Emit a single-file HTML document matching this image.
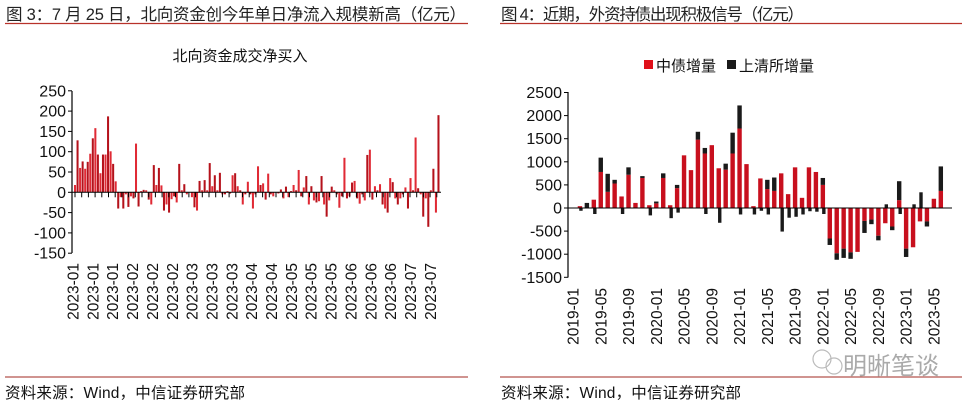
<!DOCTYPE html>
<html><head><meta charset="utf-8">
<style>
body{margin:0;background:#fff;width:970px;height:406px;overflow:hidden;font-family:"Liberation Sans","Noto Sans CJK SC",sans-serif;}
svg{position:absolute;left:0;top:0}
</style></head><body>
<svg id="s" width="970" height="406" xmlns="http://www.w3.org/2000/svg" font-family="Liberation Sans, Noto Sans CJK SC, sans-serif">
<text x="6" y="20" font-size="16.5" fill="#222" textLength="460">图 3：7 月 25 日，北向资金创今年单日净流入规模新高（亿元）</text>
<line x1="5" y1="23.5" x2="468" y2="23.5" stroke="#b8322a" stroke-width="1.2"/>
<text x="501" y="20" font-size="16.5" fill="#222" textLength="303">图 4：近期，外资持债出现积极信号（亿元）</text>
<line x1="500" y1="23.5" x2="962" y2="23.5" stroke="#b8322a" stroke-width="1.2"/>
<text x="240" y="61" font-size="15" fill="#111" text-anchor="middle">北向资金成交净买入</text>
<rect x="644" y="60" width="9" height="9" fill="#e0101a"/>
<text x="656" y="71" font-size="15" fill="#111">中债增量</text>
<rect x="727" y="60" width="9" height="9" fill="#1a1a1a"/>
<text x="739" y="71" font-size="15" fill="#111">上清所增量</text>
<line x1="5" y1="377" x2="468" y2="377" stroke="#a02a20" stroke-width="1"/>
<line x1="500" y1="377" x2="962" y2="377" stroke="#a02a20" stroke-width="1"/>
<text x="5" y="398" font-size="15.5" fill="#111" textLength="240">资料来源：Wind，中信证券研究部</text>
<text x="501" y="398" font-size="15.5" fill="#111" textLength="240">资料来源：Wind，中信证券研究部</text>
<circle cx="822" cy="359" r="9" fill="none" stroke="#bbb" stroke-width="1.2"/>
<circle cx="834" cy="366" r="8" fill="none" stroke="#bbb" stroke-width="1.2"/>
<text x="843" y="374" font-size="24" fill="#aaa">明晰笔谈</text>
<g id="L"></g><g id="R"></g>
</svg>
<script>
var ns="http://www.w3.org/2000/svg";
function el(p,t,a,txt){var e=document.createElementNS(ns,t);for(var k in a)e.setAttribute(k,a[k]);if(txt!==undefined)e.textContent=txt;p.appendChild(e);return e;}
var L=document.getElementById('L'),R=document.getElementById('R');
var z0=192.3,pp=20.3/50,x0=72,x1=441;
el(L,'line',{x1:x0,y1:91,x2:x0,y2:253,stroke:'#000','stroke-width':1.2});
for(var v=250;v>=-150;v-=50){var y=z0-v*pp;el(L,'line',{x1:x0-4,y1:y,x2:x0,y2:y,stroke:'#000'});el(L,'text',{x:x0-6,y:y+5.5,'font-size':16,'text-anchor':'end',fill:'#111'},v);}
var d=[18,128,60,76,58,75,95,133,158,93,47,93,93,187,101,70,27,-40,-12,-40,-5,-36,-10,-15,120,-35,3,6,5,-18,-30,67,18,60,17,-45,-30,-50,-17,-10,-25,70,5,20,-5,0,-12,-37,-45,28,5,30,5,72,15,42,5,48,-5,-5,3,-3,42,47,15,5,-30,-5,26,-5,-40,-5,64,18,22,-18,46,-5,-10,0,-3,7,-15,14,-12,3,18,5,55,-10,12,40,-30,15,-20,-25,-22,40,-30,-60,-20,14,5,-5,-38,-10,85,-15,-10,24,28,-15,-28,-5,-20,92,105,-18,15,5,20,-30,-40,-50,35,25,-15,-30,-15,-5,12,-40,35,5,135,10,-5,-60,-15,-85,5,58,-50,190];
var n=d.length,dx=(x1-x0-3)/n;
for(var i=0;i<n;i++){var v=d[i],x=x0+2+i*dx,y=v>=0?z0-v*pp:z0,h=Math.abs(v)*pp;el(L,'rect',{x:x,y:y,width:dx*0.8,height:h,fill:i%2?'#b5121b':'#e02a35'});}
el(L,'line',{x1:x0,y1:z0,x2:x1,y2:z0,stroke:'#000','stroke-width':1});
for(var x=x0+3;x<x1;x+=6.7)el(L,'line',{x1:x,y1:z0,x2:x,y2:z0+5,stroke:'#000'});
var lab=["2023-01","2023-01","2023-01","2023-02","2023-02","2023-02","2023-03","2023-03","2023-03","2023-04","2023-04","2023-05","2023-05","2023-05","2023-06","2023-06","2023-06","2023-07","2023-07"];
for(var i=0;i<lab.length;i++){var x=73+i*19.85+5.5;el(L,'text',{x:x,y:263,'font-size':15.5,'text-anchor':'end',fill:'#111',transform:'rotate(-90 '+x+' 263)'},lab[i]);}
var r0=208,rp=23.1/500,rx0=568,rx1=952;
el(R,'line',{x1:rx0,y1:92,x2:rx0,y2:277.5,stroke:'#000','stroke-width':1.2});
for(var v=2500;v>=-1500;v-=500){var y=r0-v*rp;el(R,'line',{x1:rx0-4,y1:y,x2:rx0,y2:y,stroke:'#000'});el(R,'text',{x:rx0-6,y:y+5.5,'font-size':16,'text-anchor':'end',fill:'#111'},v);}
var b=[[40,0,-60],[0,110,0],[180,0,-130],[780,310,0],[350,390,0],[530,80,0],[250,0,-130],[720,160,0],[110,0,0],[650,40,0],[60,0,-160],[100,40,0],[650,100,0],[60,0,-220],[430,70,-100],[1140,0,0],[820,0,0],[1480,170,0],[1180,120,-130],[1360,0,0],[860,0,-320],[830,130,0],[1180,450,0],[1720,500,-140],[950,0,0],[40,0,-140],[640,0,-60],[410,200,-140],[370,290,0],[750,0,-510],[300,0,-210],[880,0,-190],[220,0,-140],[880,0,-70],[780,0,-80],[500,150,-130],[-660,0,-140],[-980,0,-140],[-880,0,-200],[-960,0,-140],[-950,0,0],[-280,0,-260],[-250,0,-100],[-600,0,-100],[-330,80,0],[-400,0,-80],[170,410,-130],[-880,0,-180],[-850,80,0],[-290,340,0],[-290,0,-110],[200,0,0],[370,530,0]];
for(var i=0;i<b.length;i++){var c=573+6.94*(i+1),w=4.4,x=c-w/2,r=b[i][0],bp=b[i][1],bn=b[i][2];
 if(r>=0){el(R,'rect',{x:x,y:r0-r*rp,width:w,height:r*rp,fill:'#c8101e'});if(bp)el(R,'rect',{x:x,y:r0-(r+bp)*rp,width:w,height:bp*rp,fill:'#1a1a1a'});if(bn)el(R,'rect',{x:x+1.5,y:r0,width:w-1,height:-bn*rp,fill:'#1a1a1a'});}
 else{el(R,'rect',{x:x,y:r0,width:w,height:-r*rp,fill:'#c8101e'});if(bn)el(R,'rect',{x:x,y:r0-r*rp,width:w,height:-bn*rp,fill:'#1a1a1a'});if(bp)el(R,'rect',{x:x+1.5,y:r0-bp*rp,width:w-1,height:bp*rp,fill:'#1a1a1a'});}
}
el(R,'line',{x1:rx0,y1:r0,x2:rx1,y2:r0,stroke:'#000','stroke-width':1});
var rl=["2019-01","2019-05","2019-09","2020-01","2020-05","2020-09","2021-01","2021-05","2021-09","2022-01","2022-05","2022-09","2023-01","2023-05"];
for(var i=0;i<rl.length;i++){var x=573+i*27.76+5.5;el(R,'text',{x:x,y:288,'font-size':15.5,'text-anchor':'end',fill:'#111',transform:'rotate(-90 '+x+' 288)'},rl[i]);}
</script>
</body></html>
